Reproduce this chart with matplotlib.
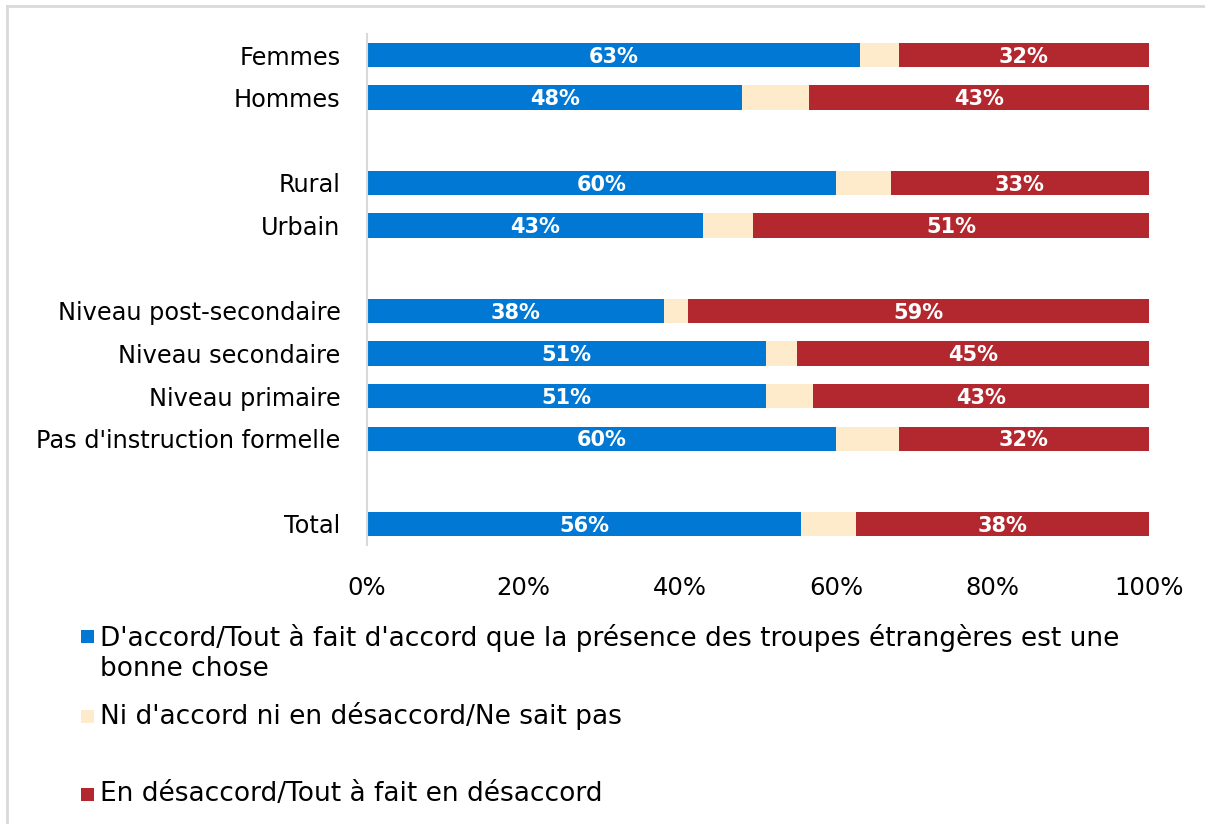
import matplotlib
matplotlib.use("Agg")
import matplotlib.pyplot as plt
from matplotlib.patches import Rectangle
from matplotlib.lines import Line2D

categories = ["Femmes", "Hommes", "Rural", "Urbain", "Niveau post-secondaire",
              "Niveau secondaire", "Niveau primaire", "Pas d'instruction formelle", "Total"]
positions = [0, 1, 3, 4, 6, 7, 8, 9, 11]
agree = [63, 48, 60, 43, 38, 51, 51, 60, 55.5]
neutral = [5, 8.5, 7, 6.4, 3, 4, 6, 8, 7]
disagree = [32, 43.5, 33, 50.6, 59, 45, 43, 32, 37.5]
agree_labels = ["63%", "48%", "60%", "43%", "38%", "51%", "51%", "60%", "56%"]
disagree_labels = ["32%", "43%", "33%", "51%", "59%", "45%", "43%", "32%", "38%"]
series_names = ["D'accord/Tout à fait d'accord que la présence des troupes étrangères est une\nbonne chose",
                "Ni d'accord ni en désaccord/Ne sait pas",
                "En désaccord/Tout à fait en désaccord"]
colors = ["#0078D4", "#FDEBCB", "#B3282E"]
xticks = [0, 20, 40, 60, 80, 100]
xticklabels = ["0%", "20%", "40%", "60%", "80%", "100%"]

plt.rcParams['font.family'] = ['DejaVu Sans']
W, H = 1205, 824
fig = plt.figure(figsize=(W/100, H/100), dpi=100)
ax = fig.add_axes([367/W, 1-545.3/H, (1149-367)/W, (545.3-33.7)/H])

h = 0.57
left2 = [a + n for a, n in zip(agree, neutral)]
ax.barh(positions, agree, height=h, color=colors[0])
ax.barh(positions, neutral, left=agree, height=h, color=colors[1])
ax.barh(positions, disagree, left=left2, height=h, color=colors[2])

for p, a, l2, d, al, dl in zip(positions, agree, left2, disagree, agree_labels, disagree_labels):
    ax.text(a/2, p + 0.04, al, ha='center', va='center', color='white', fontsize=15, fontweight='bold')
    ax.text(l2 + d/2, p + 0.04, dl, ha='center', va='center', color='white', fontsize=15, fontweight='bold')

ax.set_xlim(0, 100)
ax.set_ylim(11.5, -0.5)
ax.set_yticks(positions)
ax.set_yticklabels(categories, fontsize=17.3, color='#000000')
ax.set_xticks(xticks)
ax.set_xticklabels(xticklabels, fontsize=17.5, color='#000000')
ax.tick_params(axis='y', length=0, pad=19)
ax.tick_params(axis='x', length=0, pad=22)
for s in ['top', 'right', 'bottom']:
    ax.spines[s].set_visible(False)
ax.spines['left'].set_color('#D9D9D9')
ax.spines['left'].set_linewidth(1.5)

# legend (manual)
leg_y = [636, 716, 794]
text_y = [652.5, 716, 794]
for yc, ty, c, name in zip(leg_y, text_y, colors, series_names):
    fig.add_artist(Rectangle((81/W, 1-(yc+6.5)/H), 13/W, 13/H, transform=fig.transFigure,
                             color=c, lw=0))
    fig.text(100/W, 1-ty/H, name, ha='left', va='center',
             fontsize=19, color='#000000', linespacing=1.2)

# border
fig.add_artist(Line2D([7.5/W, 1], [1-5.5/H, 1-5.5/H], transform=fig.transFigure, color='#D9D9D9', lw=2))
fig.add_artist(Line2D([7.5/W, 7.5/W], [0, 1-5.5/H], transform=fig.transFigure, color='#D9D9D9', lw=2))

fig.savefig("out.png", dpi=100)
